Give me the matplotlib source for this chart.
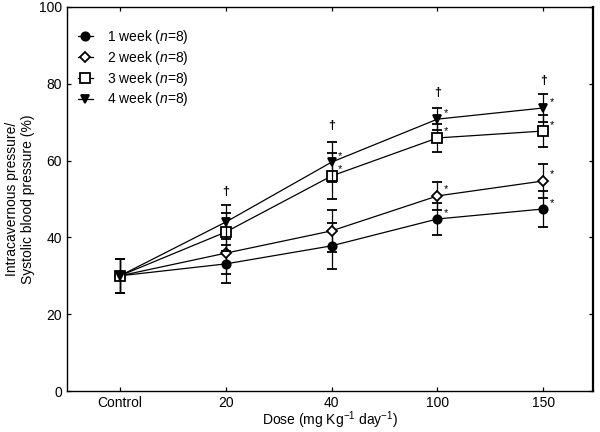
import matplotlib
matplotlib.use("Agg")
import matplotlib.pyplot as plt
from matplotlib.lines import Line2D

plt.rcParams['font.family'] = ['Liberation Sans', 'DejaVu Sans']
plt.rcParams['mathtext.fontset'] = 'custom'
plt.rcParams['mathtext.rm'] = 'Liberation Sans'
plt.rcParams['mathtext.it'] = 'Liberation Sans:italic'

categories = ["Control", "20", "40", "100", "150"]
labels = ["1 week ($n$=8)", "2 week ($n$=8)", "3 week ($n$=8)", "4 week ($n$=8)"]
means = [
    [30, 33.1, 37.8, 44.8, 47.4],
    [30, 35.9, 41.7, 50.8, 54.7],
    [30, 41.4, 56.0, 65.9, 67.7],
    [30, 44.0, 59.6, 70.8, 73.7],
]
sds = [
    [4.5, 5.0, 6.0, 4.2, 4.7],
    [4.5, 5.4, 5.4, 3.6, 4.4],
    [4.5, 5.0, 6.0, 3.7, 4.2],
    [4.5, 4.4, 5.2, 2.9, 3.6],
]
# asterisks (significance) per series per category
stars = [
    [False, False, False, True, True],
    [False, False, False, True, True],
    [False, False, True, True, True],
    [False, False, True, True, True],
]
dagger_vals = [None, 51.8, 69.0, 77.6, 80.7]

markers = ['o', 'D', 's', 'v']
faces = ['black', 'white', 'white', 'black']
msizes = [6, 5.5, 6.5, 6]

fig = plt.figure(figsize=(6.0, 4.32), dpi=100)
ax = fig.add_axes([0.1117, 0.0949, 0.8766, 0.8889])

x = list(range(len(categories)))
handles = []
for i in range(4):
    ax.errorbar(x, means[i], yerr=sds[i], color='black', lw=0.9,
                elinewidth=0.9, capsize=3.5, capthick=0.9,
                marker=markers[i], mfc=faces[i], mec='black', mew=1.3,
                ms=msizes[i], zorder=3 + i)
    handles.append(Line2D([], [], color='black', lw=0.9, marker=markers[i],
                          mfc=faces[i], mec='black', mew=1.3, ms=msizes[i],
                          label=labels[i]))
    for j in x:
        if stars[i][j]:
            ax.annotate('*', (j, means[i][j]), xytext=(6, 1),
                        textcoords='offset points', fontsize=8,
                        ha='center', va='bottom')

for j in x:
    if dagger_vals[j] is not None:
        ax.text(j, dagger_vals[j], '\u2020', fontsize=9, ha='center',
                va='center', fontweight='bold')

ax.set_xlim(-0.5, 4.47)
ax.set_ylim(0, 100)
ax.set_xticks(x)
ax.set_xticklabels(categories)
ax.set_yticks([0, 20, 40, 60, 80, 100])
ax.tick_params(direction='in', length=3, top=True, right=True,
               labelsize=10, width=0.9)
for s in ['left', 'bottom', 'top']:
    ax.spines[s].set_linewidth(1.0)
ax.spines['right'].set_linewidth(1.6)

ax.set_xlabel("Dose (mg Kg$^{-1}$ day$^{-1}$)", fontsize=10, labelpad=0)
ax.set_ylabel("Intracavernous pressure/\nSystolic blood pressure (%)",
              fontsize=10, labelpad=3)

ax.legend(handles=handles, loc='upper left', frameon=False, fontsize=10,
          handlelength=1.1, handletextpad=1.0, labelspacing=0.2,
          borderpad=0, borderaxespad=0, bbox_to_anchor=(0.02, 0.945))

fig.savefig("out.png", dpi=100)
